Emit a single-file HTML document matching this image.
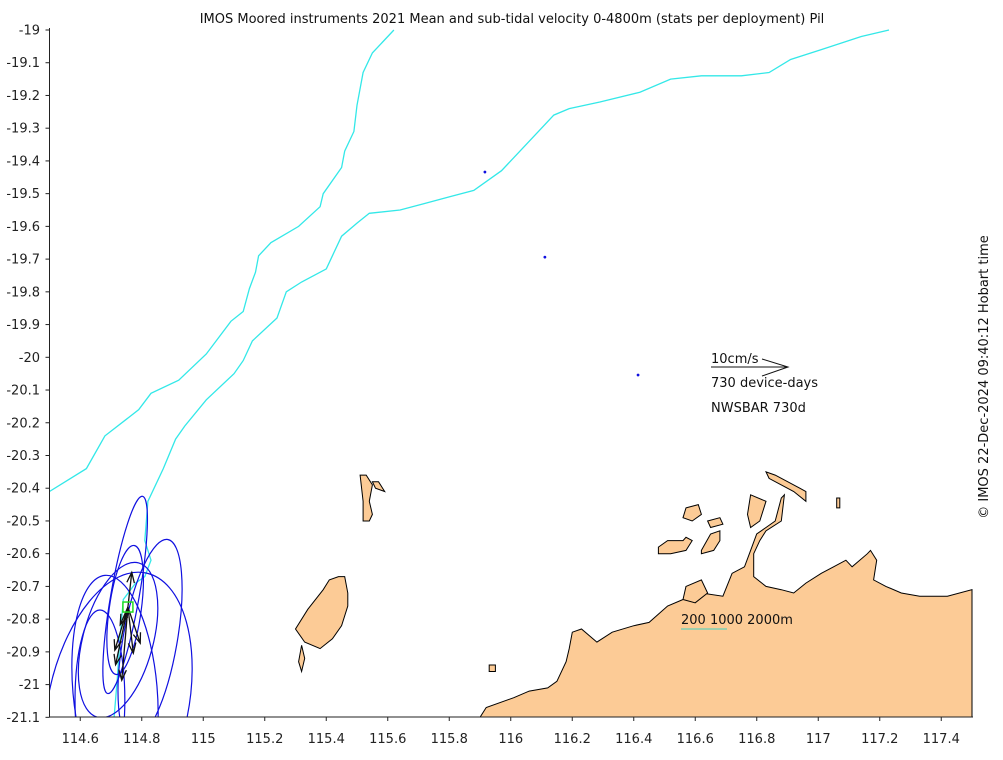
<!DOCTYPE html>
<html><head><meta charset="utf-8"><style>
html,body{margin:0;padding:0;background:#fff;overflow:hidden;width:1003px;height:760px;}
svg{display:block;font-family:"DejaVu Sans","Liberation Sans",sans-serif;}
</style></head><body>
<svg id="chart" width="1003" height="760" viewBox="0 0 1003 760" xmlns="http://www.w3.org/2000/svg">
<text x="512" y="23" text-anchor="middle" font-size="13" fill="#111">IMOS Moored instruments 2021 Mean and sub-tidal velocity 0-4800m (stats per deployment) Pil</text>
<text transform="translate(988,377) rotate(-90)" text-anchor="middle" font-size="13" fill="#111">© IMOS 22-Dec-2024 09:40:12 Hobart time</text>
<defs><clipPath id="plotclip"><rect x="49.5" y="28" width="924" height="689"/></clipPath></defs>
<g id="land" clip-path="url(#plotclip)"></g>
<g id="contours" clip-path="url(#plotclip)"></g>
<g id="ellipses" clip-path="url(#plotclip)"></g>
<g id="arrows" clip-path="url(#plotclip)"></g>
<g id="axes"></g>
<g>
<text x="711" y="363" font-size="13" fill="#111">10cm/s</text>
<line x1="711" y1="367" x2="788" y2="367" stroke="#111" stroke-width="1"/>
<polyline points="762,359 788,367 762,376" fill="none" stroke="#111" stroke-width="1"/>
<text x="711" y="387" font-size="13" fill="#111">730 device-days</text>
<text x="711" y="412" font-size="13" fill="#111">NWSBAR 730d</text>
</g>
<g>
<text x="681" y="624" font-size="13" fill="#111">200 1000 2000m</text>
<line x1="681" y1="629" x2="727" y2="629" stroke="#40d0c0" stroke-width="1"/>
</g>
</svg>
<script>
const xTicks=[114.6,114.8,115,115.2,115.4,115.6,115.8,116,116.2,116.4,116.6,116.8,117,117.2,117.4];
const yTicks=[-19,-19.1,-19.2,-19.3,-19.4,-19.5,-19.6,-19.7,-19.8,-19.9,-20,-20.1,-20.2,-20.3,-20.4,-20.5,-20.6,-20.7,-20.8,-20.9,-21,-21.1];
const mainlandLon=[115.90,115.92,116.01,116.06,116.12,116.15,116.18,116.19,116.20,116.23,116.28,116.33,116.40,116.45,116.51,116.56,116.62,116.69,116.72,116.76,116.78,116.80,116.83,116.86,116.88,116.89,116.88,116.83,116.81,116.79,116.79,116.83,116.88,116.92,116.96,117.01,117.05,117.09,117.11,117.16,117.17,117.19,117.18,117.22,117.27,117.33,117.37,117.42,117.50,117.50];
const mainlandLat=[-21.10,-21.07,-21.04,-21.02,-21.01,-20.99,-20.93,-20.89,-20.84,-20.83,-20.87,-20.84,-20.82,-20.81,-20.76,-20.74,-20.72,-20.73,-20.66,-20.64,-20.59,-20.54,-20.52,-20.50,-20.43,-20.42,-20.50,-20.53,-20.56,-20.60,-20.67,-20.70,-20.71,-20.72,-20.69,-20.66,-20.64,-20.62,-20.64,-20.60,-20.59,-20.62,-20.68,-20.70,-20.72,-20.73,-20.73,-20.73,-20.71,-21.10];
const islands=[
 [[115.44,115.46,115.47,115.47,115.45,115.42,115.38,115.33,115.30,115.34,115.39,115.41],[-20.67,-20.67,-20.72,-20.76,-20.82,-20.86,-20.89,-20.87,-20.83,-20.77,-20.71,-20.68]],
 [[115.32,115.33,115.32,115.31],[-20.88,-20.92,-20.96,-20.93]],
 [[115.51,115.53,115.55,115.54,115.55,115.54,115.52,115.52],[-20.36,-20.36,-20.39,-20.44,-20.48,-20.50,-20.50,-20.44]],
 [[115.55,115.57,115.59,115.56],[-20.38,-20.38,-20.41,-20.40]],
 [[116.48,116.51,116.56,116.57,116.59,116.57,116.52,116.48],[-20.58,-20.56,-20.56,-20.55,-20.56,-20.59,-20.60,-20.60]],
 [[116.57,116.61,116.62,116.59,116.56],[-20.46,-20.45,-20.48,-20.50,-20.49]],
 [[116.62,116.65,116.68,116.68,116.66,116.62],[-20.59,-20.54,-20.53,-20.56,-20.59,-20.60]],
 [[116.64,116.68,116.69,116.65],[-20.50,-20.49,-20.51,-20.52]],
 [[116.57,116.62,116.64,116.60,116.56],[-20.70,-20.68,-20.72,-20.75,-20.74]],
 [[116.78,116.83,116.81,116.78,116.77],[-20.42,-20.44,-20.50,-20.52,-20.48]],
 [[116.83,116.86,116.94,116.96,116.96,116.92,116.84],[-20.35,-20.36,-20.40,-20.41,-20.44,-20.41,-20.37]],
 [[117.06,117.07,117.07,117.06],[-20.43,-20.43,-20.46,-20.46]],
 [[115.93,115.95,115.95,115.93],[-20.94,-20.94,-20.96,-20.96]]
];
const c200Lon=[114.50,114.62,114.68,114.79,114.83,114.92,115.01,115.09,115.13,115.15,115.17,115.18,115.22,115.31,115.38,115.39,115.45,115.46,115.49,115.50,115.52,115.55,115.62];
const c200Lat=[-20.41,-20.34,-20.24,-20.16,-20.11,-20.07,-19.99,-19.89,-19.86,-19.79,-19.74,-19.69,-19.65,-19.60,-19.54,-19.50,-19.42,-19.37,-19.31,-19.23,-19.13,-19.07,-19.00];
const c1000Lon=[114.71,114.72,114.73,114.74,114.78,114.81,114.83,114.81,114.82,114.87,114.91,114.94,115.01,115.10,115.13,115.16,115.24,115.27,115.32,115.40,115.42,115.45,115.50,115.54,115.64,115.72,115.80,115.88,115.97,116.03,116.10,116.14,116.19,116.29,116.42,116.52,116.62,116.75,116.84,116.91,117.01,117.14,117.23];
const c1000Lat=[-21.10,-20.99,-20.85,-20.74,-20.69,-20.67,-20.62,-20.56,-20.44,-20.34,-20.25,-20.21,-20.13,-20.05,-20.01,-19.95,-19.88,-19.80,-19.77,-19.73,-19.69,-19.63,-19.59,-19.56,-19.55,-19.53,-19.51,-19.49,-19.43,-19.37,-19.30,-19.26,-19.24,-19.22,-19.19,-19.15,-19.14,-19.14,-19.13,-19.09,-19.06,-19.02,-19.00];
const ellLon=[114.723,114.713,114.827,114.746,114.746,114.723,114.664];
const ellLat=[-21.062,-21.016,-20.864,-20.726,-20.772,-20.864,-21.047];
const ellAx=[0.228,0.137,0.088,0.046,0.052,0.114,0.081];
const ellAy=[0.412,0.351,0.312,0.306,0.199,0.244,0.275];
const ellRot=[12,-5,10,10,8,15,0];
const arrU=[0.5,1.6,-1.7,-1.6,-0.8,-1.0,0.7];
const arrV=[4.5,-4.7,-5.6,-7.5,-9.5,-2.3,-6.0];
const siteLon=[114.755];
const siteLat=[-20.763];
const dotLon=[115.916,116.111,116.414];
const dotLat=[-19.434,-19.694,-20.054];
const NS='http://www.w3.org/2000/svg';
const X0=49.5,PX=307.5,Y0=30,PY=327.3;
function sx(lon){return X0+(lon-114.5)*PX;}
function sy(lat){return Y0+(-19-lat)*PY;}
const PXCM=7.7;
function mk(tag,parent,attrs){const e=document.createElementNS(NS,tag);for(const k in attrs)e.setAttribute(k,attrs[k]);parent.appendChild(e);return e;}
function pts(lons,lats){return lons.map((v,i)=>sx(v).toFixed(1)+','+sy(lats[i]).toFixed(1)).join(' ');}
const land=document.getElementById('land');
let p=mk('polygon',land,{points:pts(mainlandLon,mainlandLat),fill:'#fccb96',stroke:'#000','stroke-width':1});


islands.forEach(isl=>{const q=mk('polygon',land,{points:pts(isl[0],isl[1]),fill:'#fccb96',stroke:'#000','stroke-width':1});

});
const cont=document.getElementById('contours');
let l1=mk('polyline',cont,{points:pts(c200Lon,c200Lat),fill:'none',stroke:'#33e8e8','stroke-width':1.3});


let l2=mk('polyline',cont,{points:pts(c1000Lon,c1000Lat),fill:'none',stroke:'#33e8e8','stroke-width':1.3});


const eg=document.getElementById('ellipses');
ellLon.forEach((v,i)=>{const cx=sx(v),cy=sy(ellLat[i]);
const e=mk('ellipse',eg,{cx:cx,cy:cy,rx:ellAx[i]*PX,ry:ellAy[i]*PY,transform:'rotate('+ellRot[i]+' '+cx+' '+cy+')',fill:'none',stroke:'#1010e0','stroke-width':1.2});

});
dotLon.forEach((v,i)=>{const d=mk('circle',eg,{cx:sx(v),cy:sy(dotLat[i]),r:1.4,fill:'#1010e0'});

});
const ag=document.getElementById('arrows');
const ox=sx(siteLon[0]),oy=sy(siteLat[0]);
arrU.forEach((u,i)=>{const tx=ox+u*PXCM,ty=oy-arrV[i]*PXCM;const ang=Math.atan2(ty-oy,tx-ox),h=11;
const a1x=tx-h*Math.cos(ang-0.35),a1y=ty-h*Math.sin(ang-0.35),a2x=tx-h*Math.cos(ang+0.35),a2y=ty-h*Math.sin(ang+0.35);
const g=mk('polyline',ag,{points:ox+','+oy+' '+tx+','+ty+' '+a1x+','+a1y+' '+tx+','+ty+' '+a2x+','+a2y,fill:'none',stroke:'#111','stroke-width':1.3});

});
const sq=mk('rect',ag,{x:ox-5,y:oy-5,width:10,height:10,fill:'none',stroke:'#22dd22','stroke-width':1.5});


const ax=document.getElementById('axes');
mk('line',ax,{x1:49.5,y1:28,x2:49.5,y2:717,stroke:'#222','stroke-width':1});
mk('line',ax,{x1:49.5,y1:717,x2:973,y2:717,stroke:'#222','stroke-width':1});
xTicks.forEach(t=>{const x=sx(t);mk('line',ax,{x1:x,y1:717,x2:x,y2:721,stroke:'#222'});
const tx=mk('text',ax,{x:x,y:743,'text-anchor':'middle','font-size':13,fill:'#222'});tx.textContent=String(t);

});
yTicks.forEach(t=>{const y=sy(t);mk('line',ax,{x1:45.5,y1:y,x2:49.5,y2:y,stroke:'#222'});
const tx=mk('text',ax,{x:40,y:y+4.5,'text-anchor':'end','font-size':13,fill:'#222'});tx.textContent=String(t);

});
</script>
</body></html>
